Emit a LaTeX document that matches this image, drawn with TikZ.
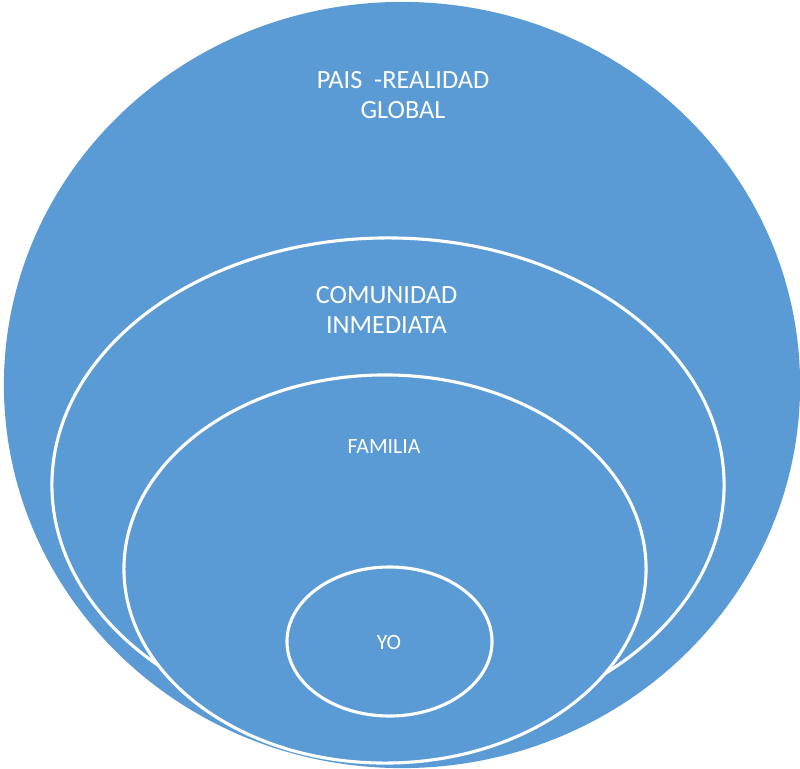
\documentclass[tikz,border=0pt]{standalone}
\usepackage{fontspec}
\setmainfont{Carlito}
\usetikzlibrary{shapes.geometric}
\definecolor{ringblue}{RGB}{91,155,213}

\begin{document}
\begin{tikzpicture}[x=0.025cm, y=-0.025cm,
  ring/.style={ellipse, draw=white, line width=2.2pt, fill=ringblue, inner sep=0pt},
  biglbl/.style={text=white, align=center, font=\fontsize{18.7}{20.8}\selectfont},
  smalllbl/.style={text=white, align=center, font=\fontsize{15.5}{17}\selectfont}]
\useasboundingbox (0,0) rectangle (800,768);
\clip (0,0) rectangle (800,768);
% circulos
\node[ring, draw=none, minimum width=19.9cm, minimum height=19.15cm] (pais) at (402,385) {};
\node[ring, minimum width=16.8cm, minimum height=12.35cm] (comunidad) at (388,485) {};
\node[ring, minimum width=13.05cm, minimum height=9.7cm] (familia) at (385,569) {};
\node[ring, minimum width=5.125cm, minimum height=3.725cm] (yo) at (389.5,641.5) {};
% textos
\node[biglbl] (paistxt) at (403,95) {PAIS\ \ -REALIDAD\\GLOBAL};
\node[biglbl] (comunidadtxt) at (386.5,310) {COMUNIDAD\\INMEDIATA};
\node[smalllbl] (familiatxt) at (384,447) {FAMILIA};
\node[smalllbl] (yotxt) at (389,642) {YO};
\end{tikzpicture}
\end{document}
